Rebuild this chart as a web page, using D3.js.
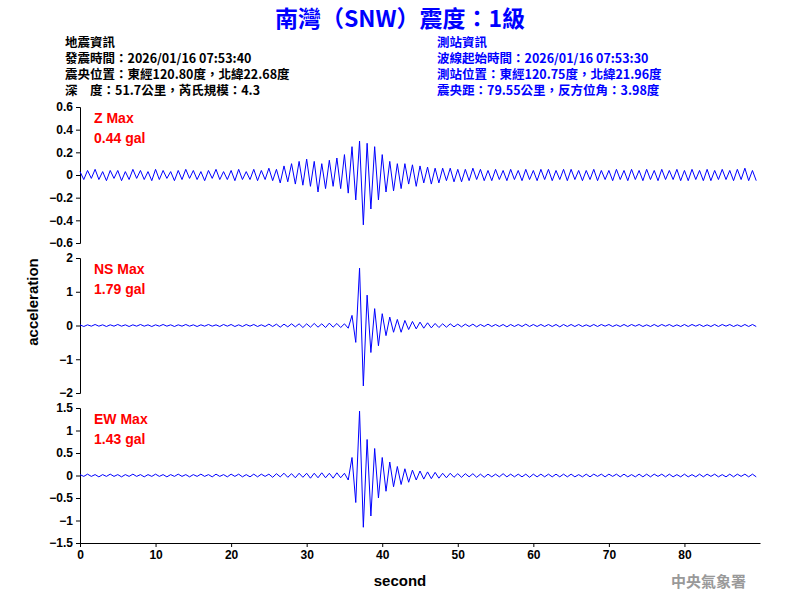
<!DOCTYPE html>
<html><head><meta charset="utf-8">
<script src="https://cdn.jsdelivr.net/npm/d3@7"></script>
<style>body{margin:0;background:#fff}</style>
</head><body><div id="chart"></div>
<script>
// samples every 0.5 s
var zVals = [
  .03,-.04,.04,-.03,.05,-.04,.03,-.05,.04,-.03,
  .04,-.05,.03,-.04,.05,-.03,.04,-.04,.03,-.05,
  .05,-.04,.04,-.03,.03,-.05,.04,-.04,.05,-.03,
  .04,-.04,.03,-.05,.04,-.03,.05,-.04,.03,-.04,
  .04,-.05,.05,-.04,.03,-.04,.05,-.05,.04,-.04,
  .06,-.05,.05,-.07,.08,-.06,.10,-.08,.12,-.09,
  .14,-.10,.12,-.15,.10,-.12,.13,-.10,.15,-.12,
  .18,-.16,.25,-.22,.30,-.44,.28,-.30,.25,-.22,
  .18,-.15,.12,-.14,.10,-.12,.10,-.08,.09,-.10,
  .08,-.07,.07,-.08,.06,-.07,.06,-.05,.06,-.06,
  .05,-.06,.05,-.05,.06,-.04,.05,-.05,.04,-.05,
  .05,-.04,.04,-.05,.05,-.04,.04,-.05,.05,-.04,
  .04,-.05,.05,-.04,.05,-.05,.04,-.04,.05,-.05,
  .05,-.04,.04,-.05,.04,-.04,.05,-.05,.04,-.04,
  .04,-.05,.05,-.04,.04,-.05,.05,-.04,.04,-.05,
  .05,-.04,.04,-.05,.05,-.04,.04,-.04,.05,-.05,
  .04,-.05,.05,-.04,.04,-.05,.05,-.05,.04,-.04,
  .05,-.04,.04,-.05,.05,-.04,.06,-.05,.04,-.05
];
var nsVals = [
  .02,-.03,.02,-.02,.03,-.02,.02,-.03,.02,-.02,
  .03,-.02,.02,-.03,.02,-.02,.03,-.02,.02,-.03,
  .02,-.02,.03,-.02,.02,-.03,.02,-.02,.03,-.02,
  .02,-.03,.02,-.02,.03,-.02,.02,-.03,.03,-.02,
  .03,-.03,.02,-.03,.03,-.02,.03,-.03,.02,-.03,
  .04,-.03,.04,-.05,.04,-.04,.05,-.04,.05,-.06,
  .05,-.05,.06,-.05,.05,-.06,.07,-.05,.06,-.06,
  .05,-.08,.30,-.50,1.70,-1.79,.90,-.80,.50,-.60,
  .35,-.30,.25,-.20,.18,-.20,.15,-.12,.12,-.10,
  .10,-.08,.08,-.07,.06,-.06,.05,-.05,.05,-.04,
  .04,-.04,.04,-.03,.04,-.04,.03,-.03,.04,-.03,
  .03,-.03,.03,-.04,.03,-.03,.03,-.03,.04,-.03,
  .03,-.03,.03,-.03,.03,-.03,.03,-.04,.03,-.03,
  .03,-.03,.03,-.03,.02,-.03,.03,-.03,.03,-.02,
  .03,-.03,.02,-.03,.03,-.03,.03,-.02,.03,-.03,
  .02,-.03,.03,-.03,.03,-.02,.03,-.03,.02,-.03,
  .03,-.03,.03,-.02,.03,-.03,.02,-.03,.03,-.03,
  .03,-.02,.03,-.03,.02,-.03,.03,-.03,.03,-.03
];
var ewVals = [
  .02,-.02,.03,-.02,.02,-.03,.02,-.02,.03,-.02,
  .02,-.03,.02,-.02,.03,-.02,.02,-.03,.02,-.02,
  .03,-.02,.02,-.03,.02,-.02,.03,-.02,.02,-.03,
  .02,-.02,.03,-.02,.02,-.03,.03,-.02,.02,-.03,
  .03,-.02,.03,-.03,.02,-.03,.03,-.03,.03,-.02,
  .03,-.04,.04,-.03,.05,-.04,.04,-.05,.05,-.04,
  .05,-.06,.05,-.05,.06,-.05,.05,-.06,.06,-.05,
  .05,-.10,.40,-.60,1.43,-1.15,.80,-.90,.60,-.50,
  .40,-.35,.30,-.25,.20,-.20,.15,-.15,.12,-.10,
  .10,-.08,.08,-.07,.07,-.06,.05,-.05,.05,-.04,
  .04,-.04,.04,-.03,.04,-.04,.03,-.04,.03,-.03,
  .03,-.03,.04,-.03,.03,-.03,.03,-.03,.03,-.04,
  .03,-.03,.03,-.03,.03,-.03,.03,-.03,.03,-.03,
  .03,-.03,.02,-.03,.03,-.03,.03,-.02,.03,-.03,
  .03,-.02,.03,-.03,.03,-.03,.02,-.03,.03,-.03,
  .03,-.03,.03,-.02,.03,-.03,.03,-.03,.02,-.03,
  .03,-.03,.02,-.03,.03,-.03,.03,-.02,.03,-.03,
  .02,-.03,.03,-.03,.03,-.02,.03,-.03,.03,-.03
];
var sampleStep = 0.5;
var zTicks = [-0.6,-0.4,-0.2,0,0.2,0.4,0.6];
var nsTicks = [-2,-1,0,1,2];
var ewTicks = [-1.5,-1,-0.5,0,0.5,1,1.5];
var xTicks = [0,10,20,30,40,50,60,70,80];
var infoLeft = ["地震資訊","發震時間：2026/01/16 07:53:40","震央位置：東經120.80度，北緯22.68度","深　度：51.7公里，芮氏規模：4.3"];
var infoRight = ["測站資訊","波線起始時間：2026/01/16 07:53:30","測站位置：東經120.75度，北緯21.96度","震央距：79.55公里，反方位角：3.98度"];

var font = "'Liberation Sans', Arial, sans-serif";
var cjk = "'Noto Sans CJK TC', sans-serif";
var svg = d3.select("#chart").append("svg").attr("width", 800).attr("height", 600);
var x = d3.scaleLinear().domain([0, 90]).range([80, 760]);

var panels = [
  { vals: zVals, dom: [-0.6, 0.6], top: 107, bot: 243, ticks: zTicks, label: "Z Max", max: "0.44 gal" },
  { vals: nsVals, dom: [-2, 2], top: 258, bot: 393, ticks: nsTicks, label: "NS Max", max: "1.79 gal" },
  { vals: ewVals, dom: [-1.5, 1.5], top: 408, bot: 543, ticks: ewTicks, label: "EW Max", max: "1.43 gal" }
];

panels.forEach(function (p) {
  var y = d3.scaleLinear().domain(p.dom).range([p.bot, p.top]);
  var ax = svg.append("g").attr("transform", "translate(80,0)")
    .call(d3.axisLeft(y).tickValues(p.ticks).tickSize(4).tickFormat(d3.format("~g")));
  ax.selectAll("text").style("font-family", font).style("font-size", "12px").style("font-weight", "bold");
  svg.append("path").datum(p.vals)
    .attr("fill", "none").attr("stroke", "#0000ff").attr("stroke-width", 1)
    .attr("d", d3.line().x(function (d, i) { return x(i * sampleStep); }).y(function (d) { return y(d); }));
  svg.append("text").attr("x", 94).attr("y", p.top + 16).text(p.label)
    .attr("fill", "#ff0000").style("font-family", font).style("font-size", "14px").style("font-weight", "bold");
  svg.append("text").attr("x", 94).attr("y", p.top + 36).text(p.max)
    .attr("fill", "#ff0000").style("font-family", font).style("font-size", "14px").style("font-weight", "bold");
});

var xa = svg.append("g").attr("transform", "translate(0,543)")
  .call(d3.axisBottom(x).tickValues(xTicks).tickSize(4).tickSizeOuter(0));
xa.selectAll("text").style("font-family", font).style("font-size", "12px").style("font-weight", "bold");

svg.append("text").attr("x", 400).attr("y", 27).attr("text-anchor", "middle")
  .text("南灣（SNW）震度：1級").attr("fill", "#0000ff")
  .style("font-family", cjk).style("font-size", "23px").style("font-weight", "bold");

infoLeft.forEach(function (t, i) {
  svg.append("text").attr("x", 65).attr("y", 47 + i * 16).text(t)
    .style("font-family", cjk).style("font-size", "12.5px").style("font-weight", "bold");
});
infoRight.forEach(function (t, i) {
  svg.append("text").attr("x", 437).attr("y", 47 + i * 16).text(t).attr("fill", "#0000ff")
    .style("font-family", cjk).style("font-size", "12.5px").style("font-weight", "bold");
});

svg.append("text").attr("transform", "translate(38,302) rotate(-90)").attr("text-anchor", "middle")
  .text("acceleration").style("font-family", font).style("font-size", "15px").style("font-weight", "bold");
svg.append("text").attr("x", 400).attr("y", 586).attr("text-anchor", "middle")
  .text("second").style("font-family", font).style("font-size", "15px").style("font-weight", "bold");
svg.append("text").attr("x", 746).attr("y", 587).attr("text-anchor", "end")
  .text("中央氣象署").attr("fill", "#999").style("font-family", cjk).style("font-size", "15px").style("font-weight", "bold");
</script></body></html>
